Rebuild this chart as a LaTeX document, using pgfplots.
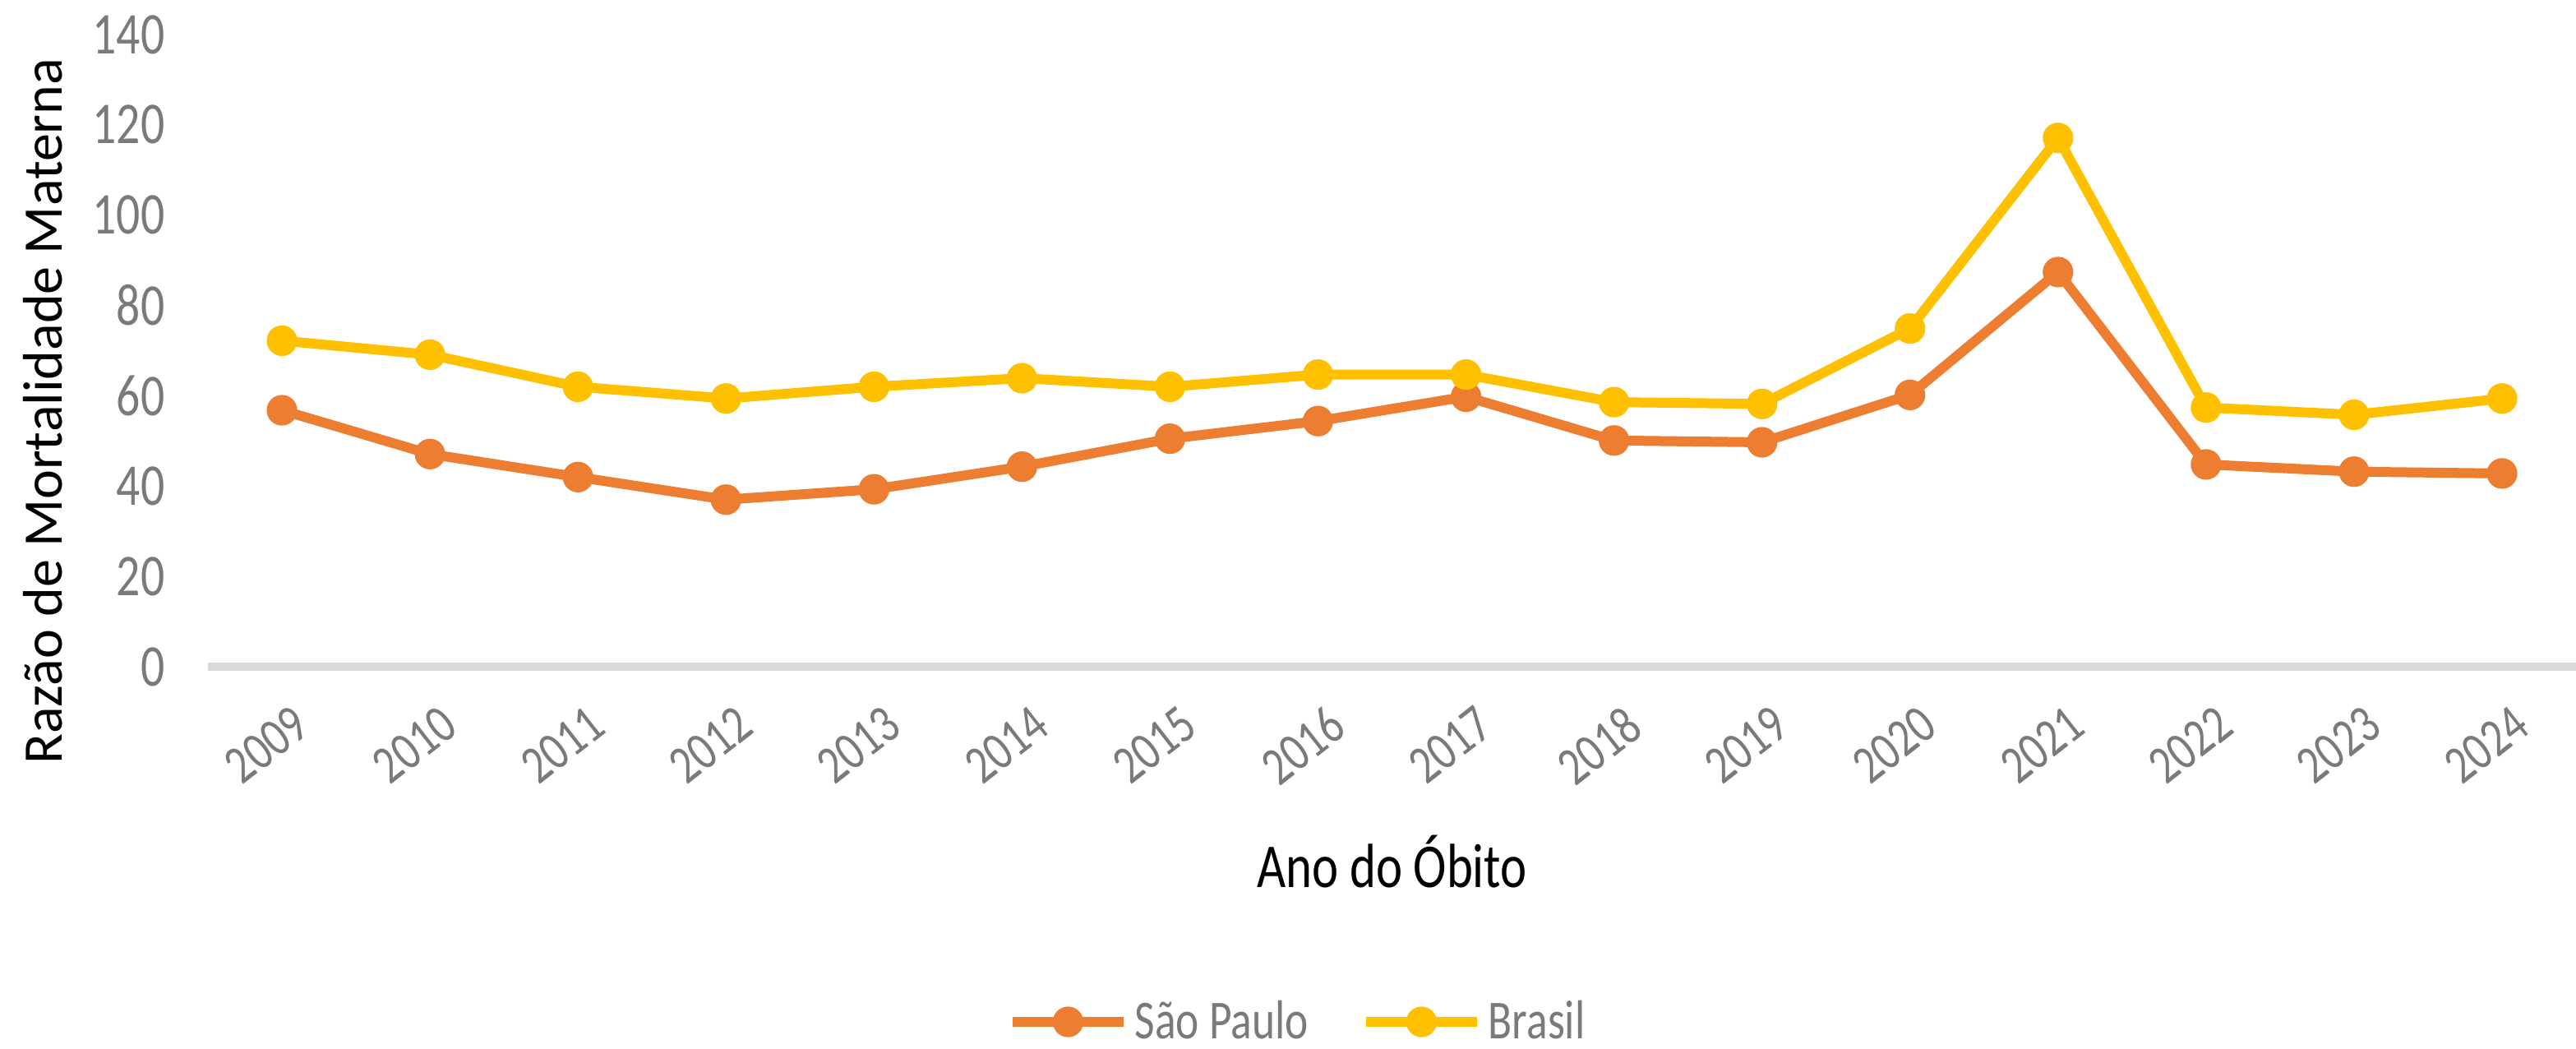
\documentclass[border=0pt]{standalone}
\usepackage{fontspec}
\setmainfont{Carlito}[FakeStretch=0.8]
\newfontfamily\ylabfont{Carlito}
\usepackage{pgfplots}
\pgfplotsset{compat=1.18}
\definecolor{spor}{HTML}{ED7D31}
\definecolor{bryl}{HTML}{FFC000}
\definecolor{tickgray}{HTML}{7A7A7A}
\definecolor{axgray}{HTML}{D9D9D9}
\begin{document}
\begin{tikzpicture}
\useasboundingbox (0,0) rectangle (783.5pt,318.75pt);
\begin{axis}[
  at={(63.25pt,116pt)}, anchor=south west,
  scale only axis, width=720.25pt, height=192.25pt,
  xmin=-0.5, xmax=15.5, ymin=0, ymax=140,
  xtick={0,...,15},
  xticklabels={2009,2010,2011,2012,2013,2014,2015,2016,2017,2018,2019,2020,2021,2022,2023,2024},
  ytick={0,20,...,140},
  /pgf/number format/assume math mode=true,
  axis x line*=bottom, axis y line*=left,
  x axis line style={draw=axgray, line width=2.5pt},
  y axis line style={draw=none},
  major tick length=0pt,
  clip=false,
  xticklabel style={yshift=-11pt, xshift=2.5pt, rotate=38, anchor=north east, inner sep=0pt,
    font=\fontsize{16.5}{18}\selectfont, text=tickgray},
  yticklabel style={anchor=east, inner sep=0pt, xshift=-13pt,
    font=\fontsize{18}{20}\selectfont, text=tickgray},
  xlabel={Ano do Óbito},
  every axis x label/.style={at={(rel axis cs:0.5,0)}, yshift=-67pt, anchor=base,
    font=\fontsize{19}{21}\selectfont, text=black},
  ylabel={Razão de Mortalidade Materna},
  every axis y label/.style={at={(rel axis cs:0,0.404)}, xshift=-44.5pt, rotate=90, anchor=base,
    font=\ylabfont\fontsize{17}{19}\selectfont, text=black},
  legend columns=2,
  legend style={at={(rel axis cs:0.461,0)}, anchor=center, yshift=-108pt,
    draw=none, fill=none, inner sep=0pt,
    font=\fontsize{16.7}{18}\selectfont, text=tickgray,
    nodes={inner sep=2pt},
    /tikz/every even column/.append style={column sep=14pt}},
  legend image code/.code={\draw[#1, mark repeat=2, mark phase=2] plot coordinates {(0pt,0pt) (16.9pt,0pt) (33.75pt,0pt)};},
]
\addplot[color=spor, line width=3pt, mark=*, mark size=4.4pt,
  mark options={solid, fill=spor, draw=spor, line width=0.5pt}] coordinates {
  (0,56.8) (1,47.1) (2,42.0) (3,37.0) (4,39.3) (5,44.3) (6,50.5) (7,54.4)
  (8,59.8) (9,50.1) (10,49.7) (11,60.2) (12,87.4) (13,44.8) (14,43.2) (15,42.8)};
\addlegendentry{São Paulo}
\addplot[color=bryl, line width=3pt, mark=*, mark size=4.4pt,
  mark options={solid, fill=bryl, draw=bryl, line width=0.5pt}] coordinates {
  (0,72.2) (1,69.1) (2,62.0) (3,59.4) (4,62.0) (5,63.9) (6,62.0) (7,64.7)
  (8,64.7) (9,58.6) (10,58.2) (11,74.9) (12,117.1) (13,57.4) (14,55.8) (15,59.4)};
\addlegendentry{Brasil}
\end{axis}
\end{tikzpicture}
\end{document}
